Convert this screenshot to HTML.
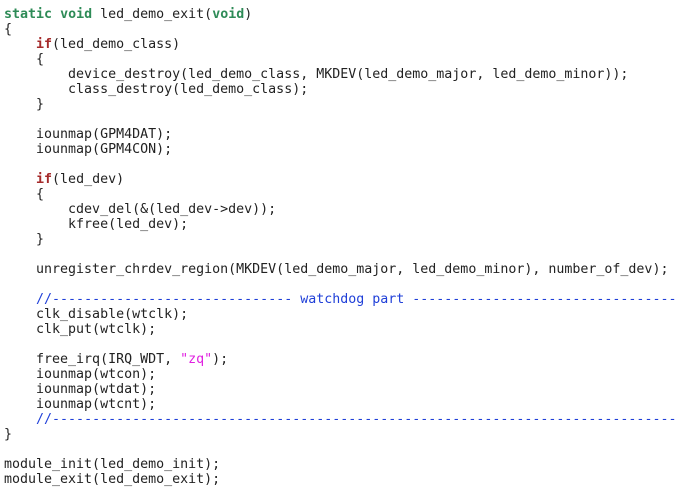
<!DOCTYPE html>
<html><head><meta charset="utf-8"><style>
html,body{margin:0;padding:0;background:#fff;width:678px;height:495px;overflow:hidden}
pre{margin:0;padding:7px 0 0 4px;font-family:"DejaVu Sans Mono","Liberation Mono",monospace;font-size:13.3px;line-height:15px;color:#222;white-space:pre;overflow:hidden;width:674px}
.k{color:#2e8b57;font-weight:bold}
.r{color:#a52a2a;font-weight:bold}
.c{color:#1f3fd8}
.s{color:#e020e0}
</style></head><body><pre><span class="k">static</span> <span class="k">void</span> led_demo_exit(<span class="k">void</span>)
{
    <span class="r">if</span>(led_demo_class)
    {
        device_destroy(led_demo_class, MKDEV(led_demo_major, led_demo_minor));
        class_destroy(led_demo_class);
    }

    iounmap(GPM4DAT);
    iounmap(GPM4CON);

    <span class="r">if</span>(led_dev)
    {
        cdev_del(&amp;(led_dev-&gt;dev));
        kfree(led_dev);
    }

    unregister_chrdev_region(MKDEV(led_demo_major, led_demo_minor), number_of_dev);

    <span class="c">//------------------------------ watchdog part ------------------------------------------</span>
    clk_disable(wtclk);
    clk_put(wtclk);

    free_irq(IRQ_WDT, <span class="s">"zq"</span>);
    iounmap(wtcon);
    iounmap(wtdat);
    iounmap(wtcnt);
    <span class="c">//--------------------------------------------------------------------------------------------</span>
}

module_init(led_demo_init);
module_exit(led_demo_exit);
</pre></body></html>
